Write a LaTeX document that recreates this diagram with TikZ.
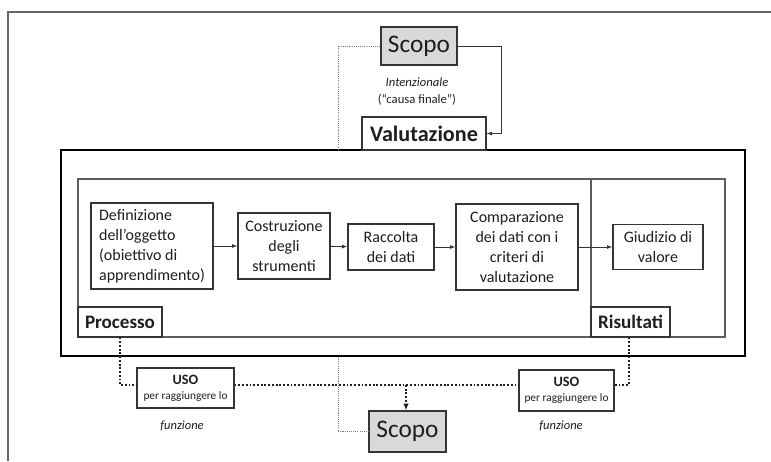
\documentclass[tikz,border=0pt]{standalone}
\usepackage{fontspec}
\setmainfont{Carlito}
\usetikzlibrary{arrows.meta}
\definecolor{ink}{HTML}{1E1E1E}
\definecolor{edge}{HTML}{353535}
\definecolor{scopofill}{HTML}{D9D9D9}
\begin{document}
\begin{tikzpicture}[x=0.75pt,y=-0.75pt,
  box/.style={draw=edge, line width=0.9pt, fill=white, text=ink, inner sep=1pt, align=center,
    font=\fontsize{12}{15}\selectfont},
  scopobox/.style={draw=edge, line width=0.9pt, fill=scopofill, text=ink, inner sep=0pt,
    font=\fontsize{19}{22}\selectfont},
  tagbox/.style={draw=edge, line width=0.8pt, fill=white, text=ink, inner sep=0pt,
    font=\fontsize{14.3}{17}\selectfont\bfseries},
  usobox/.style={draw=edge, line width=0.9pt, fill=white, text=ink, inner sep=0pt, align=center},
  flow/.style={draw=edge, line width=0.7pt, -{Latex[length=4pt,width=3pt]}},
  thindot/.style={draw=gray, line width=0.6pt, dash pattern=on 0.8pt off 0.8pt},
  thickdot/.style={draw=ink, line width=1.6pt, dash pattern=on 1.4pt off 1.4pt},
  note/.style={text=ink, inner sep=0pt}
]
\useasboundingbox (0,0) rectangle (771,461);
% page frame
\draw[gray!80!black, line width=1pt] (8,461) -- (8,12) -- (771,12);

% main containers
\node[draw=black, line width=2.2pt, fill=white, minimum width=513pt, minimum height=154.5pt, inner sep=0pt] (frame) at (403,253) {};
\node[draw=edge!80, line width=0.8pt, minimum width=485.25pt, minimum height=118.5pt, inner sep=0pt] (inner) at (401.5,258) {};
\coordinate (divtop) at (591,179);
\coordinate (divbot) at (591,337);
\draw[draw=edge!80, line width=0.8pt] (divtop) -- (divbot);

\node[tagbox, minimum width=63pt, minimum height=22.5pt] (processo) at (120,322) {Processo};
\node[tagbox, minimum width=59.25pt, minimum height=22.5pt] (risultati) at (630.5,322) {Risultati};

% process steps
\node[box, minimum width=91.5pt, minimum height=64.5pt, align=left] (def) at (152,246)
  {Definizione\\dell’oggetto\\(obiettivo di\\apprendimento)};
\node[box, minimum width=69pt, minimum height=49.5pt] (cos) at (284,246) {Costruzione\\degli\\strumenti};
\node[box, minimum width=64.5pt, minimum height=34.5pt] (rac) at (391,247) {Raccolta\\dei dati};
\node[box, minimum width=91.5pt, minimum height=64.5pt] (com) at (517,247) {Comparazione\\dei dati con i\\criteri di\\valutazione};
\node[box, minimum width=67.5pt, minimum height=33.75pt] (giu) at (658,247) {Giudizio di\\valore};

\draw[flow] (def) -- (cos);
\draw[flow] (cos) -- (rac);
\draw[flow] (rac) -- (com);
\draw[flow] (com) -- (giu);

% top part
\node[scopobox, minimum width=57pt, minimum height=28.5pt] (scopoT) at (419,46) {Scopo};
\node[note, font=\fontsize{9.5}{11}\selectfont\itshape] (intenz) at (417,82) {Intenzionale};
\node[note, font=\fontsize{9.5}{11}\selectfont] (causa) at (417,100) {(“causa finale”)};
\node[draw=edge, line width=0.9pt, fill=white, text=ink, inner sep=0pt, minimum width=93pt, minimum height=24.75pt,
  font=\fontsize{16.6}{19}\selectfont\bfseries] (valut) at (424,133.5) {Valutazione};
\coordinate (tr) at (501,46);
\coordinate (ftop) at (338,150);
\draw[flow, line width=0.6pt] (scopoT.east) -- (tr) |- (valut.east);
\draw[thindot] (scopoT.west) -| (ftop);

% bottom part
\node[scopobox, minimum width=57.75pt, minimum height=30.75pt] (scopoB) at (407.5,431.5) {Scopo};
\coordinate (fbot) at (338,357);
\draw[thindot] (fbot) |- (scopoB.west);

\node[usobox, minimum width=72.75pt, minimum height=30pt] (usoL) at (185.5,388)
  {{\fontsize{10.7}{12}\selectfont\bfseries USO}\\[-1pt]{\fontsize{8.5}{10}\selectfont per raggiungere lo}};
\node[usobox, minimum width=71.25pt, minimum height=30.75pt] (usoR) at (566.5,390.5)
  {{\fontsize{10.7}{12}\selectfont\bfseries USO}\\[-1pt]{\fontsize{8.5}{10}\selectfont per raggiungere lo}};
\node[note, font=\fontsize{9.4}{11}\selectfont\itshape] (funzL) at (182,426) {funzione};
\node[note, font=\fontsize{9.4}{11}\selectfont\itshape] (funzR) at (561,426) {funzione};

\coordinate (lc) at (120,385);
\coordinate (rc) at (629,385);
\coordinate (mc) at (406,385);
\draw[thickdot] (processo.south) -- (lc) -- (usoL.west |- lc);
\draw[thickdot] (risultati.south -| rc) -- (rc) -- (usoR.east |- rc);
\draw[thickdot] (usoL.east |- lc) -- (usoR.west |- rc);
\draw[thickdot, -{Latex[length=5pt,width=4pt]}] (mc) -- (scopoB.north -| mc);
\end{tikzpicture}
\end{document}
